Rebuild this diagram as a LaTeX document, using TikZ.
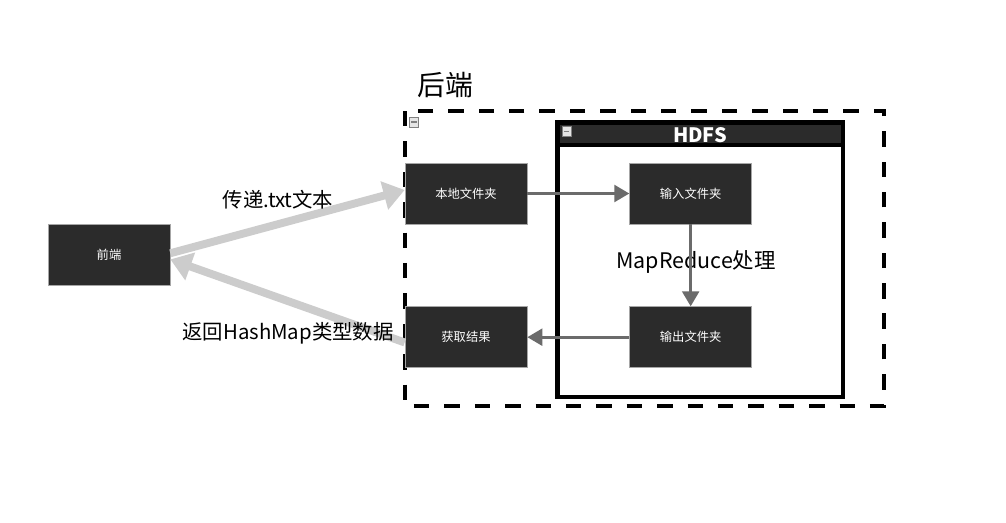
\documentclass[tikz,border=0pt]{standalone}
\usepackage{fontspec}
\setmainfont{Noto Sans CJK SC}
\usetikzlibrary{arrows.meta,positioning}
\definecolor{boxgray}{HTML}{2B2B2B}
\definecolor{flowgray}{HTML}{CCCCCC}
\definecolor{linkgray}{HTML}{6B6B6B}
\tikzset{
  box/.style={fill=boxgray, draw=gray!70, minimum width=2.44cm, minimum height=1.22cm,
    inner sep=0pt, text=white, font=\fontsize{7}{8}\selectfont},
  flow/.style={draw=flowgray, line width=4.5pt, -{Triangle[length=12pt,width=16pt]}},
  link/.style={draw=linkgray, line width=1.7pt, -{Triangle[length=8.5pt,width=9.5pt]}},
  lbl/.style={font=\fontsize{11.6}{13}\selectfont},
  minbox/.style={draw=gray, fill=gray!20, minimum width=0.18cm, minimum height=0.2cm,
    inner sep=0pt, path picture={\draw[line width=0.9pt]
      ([xshift=-0.055cm]path picture bounding box.center) -- ++(0.11cm,0);}}
}
\begin{document}
\begin{tikzpicture}[x=0.02cm, y=-0.02cm, node distance=1.64cm and 2.04cm]
  \useasboundingbox[fill=white] (0,0) rectangle (1006,522);
  % backend frame
  \draw[line width=2.5pt, dash pattern=on 8.8pt off 8.5pt] (405,111) rectangle (884,406);
  \node[minbox] (backicon) at (414,122) {};
  \node[font=\fontsize{15.8}{18}\selectfont] (backend) at (445.5,85) {后端};
  % HDFS frame
  \fill (557.5,122.5) rectangle (843,147);
  \fill[boxgray] (560,125) rectangle (840.5,143);
  \draw[line width=2.8pt] (557.5,122.5) rectangle (843,397);
  \node[minbox] (hdfsicon) at (566.5,131.5) {};
  \node[text=white, font=\fontsize{11.3}{13}\selectfont\bfseries] (hdfs) at (700,135) {HDFS};
  % nodes
  \node[box] (front) at (109,255) {前端};
  \node[box] (local) at (466,193.5) {本地文件夹};
  \node[box] (result) [below=of local] {获取结果};
  \node[box] (input) [right=of local] {输入文件夹};
  \node[box] (output) [below=of input] {输出文件夹};
  \node[font=\fontsize{12.2}{14}\selectfont] (mr) at (696,262) {MapReduce处理};
  % connectors
  \draw[flow] ([yshift=1pt]front.east) -- ([yshift=2pt]local.west);
  \draw[flow] ([yshift=-3pt]result.west) -- ([yshift=-2.5pt]front.east);
  \node[lbl] (sendlbl) at (278,200) {传递.txt文本};
  \node[lbl] (backlbl) at (288,333) {返回HashMap类型数据};
  \draw[link] (local) -- (input);
  \draw[link] (input) -- (output);
  \draw[link] (output) -- (result);
\end{tikzpicture}
\end{document}
